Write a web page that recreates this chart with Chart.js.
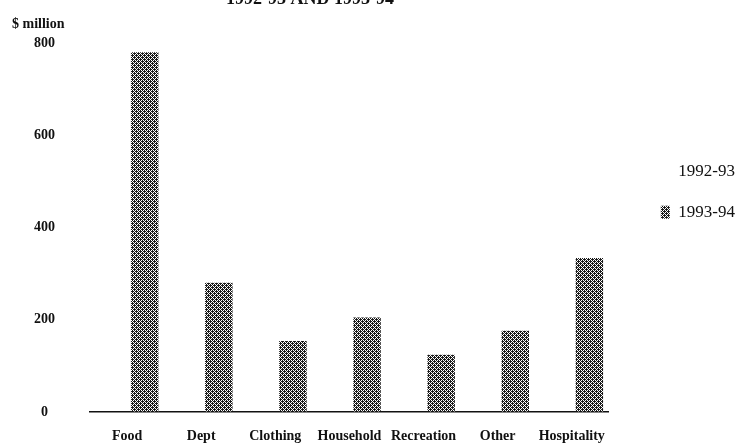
<!DOCTYPE html>
<html>
<head>
<meta charset="utf-8">
<script src="https://cdn.jsdelivr.net/npm/chart.js@4/dist/chart.umd.min.js"></script>
<style>
  html, body { margin: 0; padding: 0; background: #fff; overflow: hidden; }
  #wrap { position: relative; width: 738px; height: 445px; }
</style>
</head>
<body>
<div id="wrap"><canvas id="c" width="738" height="445"></canvas></div>
<script>
// ---- data ----
const categories = ['Food', 'Dept', 'Clothing', 'Household', 'Recreation', 'Other', 'Hospitality'];
const seriesNames = ['1992-93', '1993-94'];
// 1992-93 bars are printed white (invisible on the page); values are estimates
const values9293 = [740, 260, 145, 195, 115, 165, 315];
const values9394 = [780, 280, 154, 205, 124, 176, 334];
const yTicks = [0, 200, 400, 600, 800];
const yUnit = '$ million';
const titleLine = '1992-93 AND 1993-94';

// dithered grey fill like the printed pattern
function ditherPattern() {
  const p = document.createElement('canvas');
  p.width = 4; p.height = 4;
  const g = p.getContext('2d');
  g.fillStyle = '#fff'; g.fillRect(0, 0, 4, 4);
  g.fillStyle = '#1a1a1a';
  const rows = ['1010', '0111', '1010', '1101'];
  rows.forEach((r, y) => { for (let x = 0; x < 4; x++) if (r[x] === '1') g.fillRect(x, y, 1, 1); });
  return document.getElementById('c').getContext('2d').createPattern(p, 'repeat');
}
const grey = ditherPattern();
const serif = "'Liberation Serif', 'DejaVu Serif', serif";

const extraText = {
  id: 'extraText',
  afterDraw(chart) {
    const ctx = chart.ctx;
    ctx.save();
    ctx.fillStyle = '#111';
    ctx.font = 'bold 14px ' + serif;
    ctx.textAlign = 'left';
    ctx.textBaseline = 'middle';
    ctx.fillText(yUnit, 12, 24);
    ctx.font = 'bold 18px ' + serif;
    ctx.textAlign = 'center';
    ctx.textBaseline = 'alphabetic';
    ctx.fillText(titleLine, 310, 4);
    ctx.restore();
  }
};

new Chart(document.getElementById('c'), {
  type: 'bar',
  data: {
    labels: categories,
    datasets: [
      { label: seriesNames[0], data: values9293, backgroundColor: 'rgba(255,255,255,0)', borderWidth: 0 },
      { label: seriesNames[1], data: values9394, backgroundColor: grey, borderWidth: 0 }
    ]
  },
  options: {
    responsive: false,
    animation: false,
    devicePixelRatio: 1,
    categoryPercentage: 0.95,
    barPercentage: 0.78,
    layout: { padding: { top: 43, right: -7, bottom: 0, left: 0 } },
    scales: {
      x: {
        afterFit: s => { s.height = 33; },
        grid: { display: false, drawTicks: false },
        border: { display: true, color: '#111', width: 1.5 },
        ticks: { color: '#111', font: { family: serif, size: 14, weight: 'bold' }, padding: 16, maxRotation: 0, autoSkip: false }
      },
      y: {
        min: 0, max: 800,
        afterBuildTicks: s => { s.ticks = yTicks.map(v => ({ value: v })); },
        afterFit: s => { s.width = 90; },
        grid: { display: true, drawOnChartArea: false, drawTicks: true, tickLength: 35, color: 'rgba(0,0,0,0)' },
        border: { display: false },
        ticks: { color: '#111', font: { family: serif, size: 14, weight: 'bold' }, padding: 0, crossAlign: 'center' }
      },
      spacer: {
        position: 'right',
        display: true,
        grid: { display: false, drawTicks: false },
        border: { display: false },
        ticks: { display: false },
        afterFit: s => { s.width = 28; }
      }
    },
    plugins: {
      legend: {
        position: 'right',
        align: 'start',
        title: { display: true, text: ' ', padding: { top: 79, bottom: 0 }, font: { size: 14 } },
        labels: {
          color: '#111',
          font: { family: serif, size: 17 },
          boxWidth: 9,
          boxHeight: 13,
          padding: 24
        }
      },
      tooltip: { enabled: false }
    }
  },
  plugins: [extraText]
});
</script>
</body>
</html>
